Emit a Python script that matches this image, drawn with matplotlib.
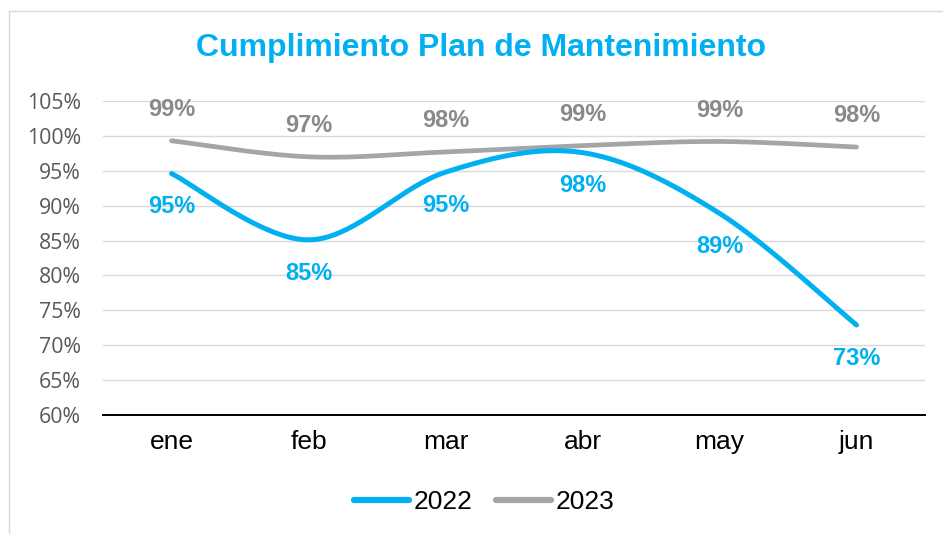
import numpy as np
import matplotlib
matplotlib.use("Agg")
import matplotlib.pyplot as plt
from matplotlib.lines import Line2D

months = ["ene", "feb", "mar", "abr", "may", "jun"]
v2022 = [0.946, 0.851, 0.948, 0.976, 0.889, 0.729]
v2023 = [0.993, 0.970, 0.977, 0.986, 0.992, 0.984]
labels2022 = ["95%", "85%", "95%", "98%", "89%", "73%"]
labels2023 = ["99%", "97%", "98%", "99%", "99%", "98%"]
yticks = [0.60, 0.65, 0.70, 0.75, 0.80, 0.85, 0.90, 0.95, 1.00, 1.05]
title = "Cumplimiento Plan de Mantenimiento"

BLUE = "#00B0F0"
GRAY = "#A5A5A5"
GRAY_LBL = "#898989"


def smooth(xs, ys, n=40):
    xs = np.asarray(xs, float)
    ys = np.asarray(ys, float)
    P = np.column_stack([xs, ys])
    out = []
    for i in range(len(P) - 1):
        p0 = P[i - 1] if i > 0 else P[i]
        p1 = P[i]
        p2 = P[i + 1]
        p3 = P[i + 2] if i + 2 < len(P) else P[i + 1]
        c1 = p1 + (p2 - p0) / 6.0
        c2 = p2 - (p3 - p1) / 6.0
        t = np.linspace(0, 1, n)[:, None]
        seg = ((1 - t) ** 3) * p1 + 3 * ((1 - t) ** 2) * t * c1 + 3 * (1 - t) * t ** 2 * c2 + t ** 3 * p2
        out.append(seg if i == 0 else seg[1:])
    arr = np.vstack(out)
    return arr[:, 0], arr[:, 1]


fig = plt.figure(figsize=(9.43, 5.34), dpi=100)
ax = fig.add_axes([103 / 943, 1 - 415 / 534, (925 - 103) / 943, (415 - 101) / 534])

x = np.arange(len(months))
ax.set_xlim(-0.5, len(months) - 0.5)
ax.set_ylim(0.60, 1.05)

for yv in yticks[1:]:
    ax.axhline(yv, color="#D9D9D9", lw=1.0, zorder=1)

sx, sy = smooth(x, v2023)
ax.plot(sx, sy, color=GRAY, lw=3.4, solid_capstyle="round", zorder=3)
sx, sy = smooth(x, v2022)
ax.plot(sx, sy, color=BLUE, lw=3.6, solid_capstyle="round", zorder=4)

for xi, yv, lb in zip(x, v2023, labels2023):
    ax.annotate(lb, (xi, yv), xytext=(0, 22.5), textcoords="offset points",
                ha="center", va="center", fontsize=17, fontweight="bold",
                color=GRAY_LBL, family="Liberation Sans", zorder=5)
for xi, yv, lb in zip(x, v2022, labels2022):
    ax.annotate(lb, (xi, yv), xytext=(0, -24), textcoords="offset points",
                ha="center", va="center", fontsize=17, fontweight="bold",
                color=BLUE, family="Liberation Sans", zorder=5)

for s in ["top", "right", "left"]:
    ax.spines[s].set_visible(False)
ax.spines["bottom"].set_color("black")
ax.spines["bottom"].set_linewidth(1.4)
ax.spines["bottom"].set_zorder(2)

ax.set_yticks(yticks)
ax.set_yticklabels([f"{int(round(v * 100))}%" for v in yticks], family="Open Sans",
                   fontsize=15.3, color="#595959")
ax.set_xticks(x)
ax.set_xticklabels(months, family="Liberation Sans", fontsize=19, color="black")
ax.tick_params(axis="y", length=0, pad=16)
ax.tick_params(axis="x", length=0, pad=11)

fig.text(481 / 943, 1 - 48 / 534, title, ha="center", va="center", fontsize=23,
         fontweight="bold", color=BLUE, family="Liberation Sans")

handles = [Line2D([0], [0], color=BLUE, lw=4.5, solid_capstyle="round"),
           Line2D([0], [0], color=GRAY, lw=4.5, solid_capstyle="round")]
leg = fig.legend(handles, ["2022", "2023"], loc="center", bbox_to_anchor=(484 / 943, 1 - 502 / 534),
                 ncol=2, frameon=False, handlelength=2.1, handletextpad=0.15,
                 columnspacing=0.9, prop={"family": "Liberation Sans", "size": 19})

# chart border (light gray)
fig.add_artist(Line2D([9 / 943, 9 / 943], [0, 1 - 11 / 534], transform=fig.transFigure,
                      color="#D9D9D9", lw=1.0))
fig.add_artist(Line2D([9 / 943, 1], [1 - 11 / 534, 1 - 11 / 534], transform=fig.transFigure,
                      color="#D9D9D9", lw=1.0))

fig.savefig("out.png", dpi=100, facecolor="white")
